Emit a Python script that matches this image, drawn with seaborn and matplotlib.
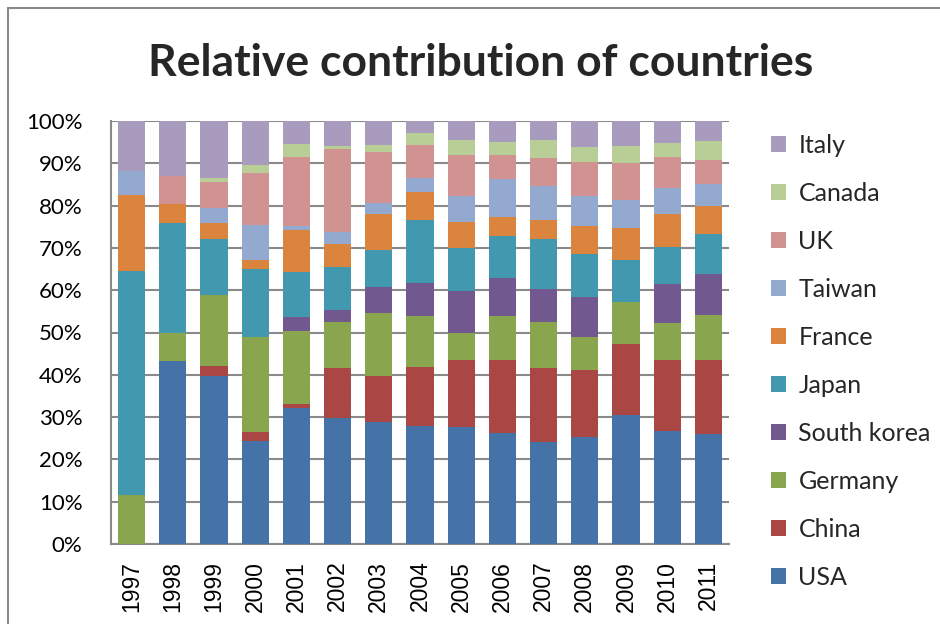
import matplotlib
matplotlib.use("Agg")
import matplotlib.pyplot as plt
import seaborn as sns
import numpy as np
import pandas as pd
from matplotlib.patches import Patch
from matplotlib.lines import Line2D

years = ["1997", "1998", "1999", "2000", "2001", "2002", "2003", "2004",
         "2005", "2006", "2007", "2008", "2009", "2010", "2011"]

usa         = [0.0, 43.3, 39.6, 24.3, 32.1, 29.8, 28.8, 27.9, 27.7, 26.3, 24.1, 25.4, 30.6, 26.8, 26.0]
china       = [0.0, 0.0, 2.5, 2.2, 1.0, 11.7, 10.8, 14.0, 15.7, 17.3, 17.5, 15.8, 16.6, 16.7, 17.5]
germany     = [11.5, 6.6, 16.8, 22.5, 17.3, 11.0, 15.1, 11.9, 6.6, 10.4, 10.9, 7.8, 10.1, 8.8, 10.7]
south_korea = [0.0, 0.0, 0.0, 0.0, 3.3, 2.9, 6.0, 7.8, 9.7, 9.0, 7.8, 9.5, 0.0, 9.2, 9.7]
japan       = [53.1, 26.1, 13.3, 16.1, 10.7, 10.2, 8.8, 14.9, 10.2, 9.9, 11.7, 10.1, 9.9, 8.6, 9.5]
france      = [17.8, 4.3, 3.6, 2.1, 9.8, 5.3, 8.5, 6.7, 6.2, 4.3, 4.7, 6.5, 7.4, 7.9, 6.5]
taiwan      = [5.7, 0.0, 3.7, 8.3, 0.9, 2.8, 2.5, 3.4, 6.1, 9.0, 7.9, 7.1, 6.8, 6.1, 5.3]
uk          = [0.0, 6.7, 6.0, 12.1, 16.3, 19.6, 12.2, 7.7, 9.7, 5.7, 6.6, 8.1, 8.6, 7.3, 5.5]
canada      = [0.0, 0.0, 1.1, 2.1, 3.1, 0.8, 1.6, 2.9, 3.6, 3.1, 4.3, 3.5, 4.2, 3.5, 4.5]
italy       = [11.9, 13.0, 13.4, 10.3, 5.5, 5.9, 5.7, 2.8, 4.5, 5.0, 4.5, 6.2, 5.8, 5.1, 4.8]

countries = ["USA", "China", "Germany", "South korea", "Japan", "France",
             "Taiwan", "UK", "Canada", "Italy"]
series = [usa, china, germany, south_korea, japan, france, taiwan, uk, canada, italy]
colors = ["#4572A7", "#AA4643", "#89A54E", "#71588F", "#4198AF", "#DB843D",
          "#93A9CF", "#D19392", "#B9CD96", "#A99BBD"]

sns.set_theme(style="white")
plt.rcParams["font.family"] = ["Lato", "DejaVu Sans"]

fig = plt.figure(figsize=(9.4, 6.24), dpi=100)
ax = fig.add_axes([111/940, 80/624, 618/940, 423/624])

vals = np.array(series, dtype=float)
totals = vals.sum(axis=0)
vals = vals / totals * 100.0
cum = np.cumsum(vals, axis=0)

# draw from top of the stack down so lower layers overlay
for i in range(len(countries) - 1, -1, -1):
    df = pd.DataFrame({"year": years, "value": cum[i]})
    sns.barplot(data=df, x="year", y="value", color=colors[i], width=0.66,
                saturation=1, ax=ax, linewidth=0, zorder=3)

ax.set_ylim(0, 100)
ax.set_xlim(-0.5, len(years) - 0.5)
ax.set_yticks(np.arange(0, 101, 10))
ax.set_yticklabels([f"{v}%" for v in range(0, 101, 10)], fontsize=16)
ax.set_xticks(range(len(years)))
ax.set_xticklabels(years, rotation=90, fontsize=16.5, family=["Liberation Sans"])
ax.tick_params(axis="y", length=0, pad=20.5, colors="#000000")
ax.tick_params(axis="x", length=0, pad=12, colors="#000000")
ax.set_xlabel("")
ax.set_ylabel("")

ax.yaxis.grid(True, color="#8a8a8a", linewidth=1.5, zorder=0)
ax.set_axisbelow(True)
for s in ["top", "right"]:
    ax.spines[s].set_visible(False)
for s in ["left", "bottom"]:
    ax.spines[s].set_visible(True)
    ax.spines[s].set_color("#8a8a8a")
    ax.spines[s].set_linewidth(1.5)

handles = [Patch(facecolor=colors[i], edgecolor="none", label=countries[i])
           for i in range(len(countries) - 1, -1, -1)]
fig.legend(handles=handles, loc="upper left", bbox_to_anchor=(771/940, 1 - 134/624),
           frameon=False, fontsize=18, handlelength=0.6, handleheight=0.6,
           handletextpad=0.5, labelspacing=1.0, borderaxespad=0, borderpad=0)

fig.text(481/940, 1 - 63/624, "Relative contribution of countries",
         ha="center", va="center", fontsize=32, fontweight="bold")

# chart frame (left and top edges visible)
fig.add_artist(Line2D([8/940, 8/940], [0, 1 - 8/624], transform=fig.transFigure,
                      color="#8a8a8a", linewidth=1.5))
fig.add_artist(Line2D([8/940, 1], [1 - 8/624, 1 - 8/624], transform=fig.transFigure,
                      color="#8a8a8a", linewidth=1.5))

fig.savefig("out.png", dpi=100)
